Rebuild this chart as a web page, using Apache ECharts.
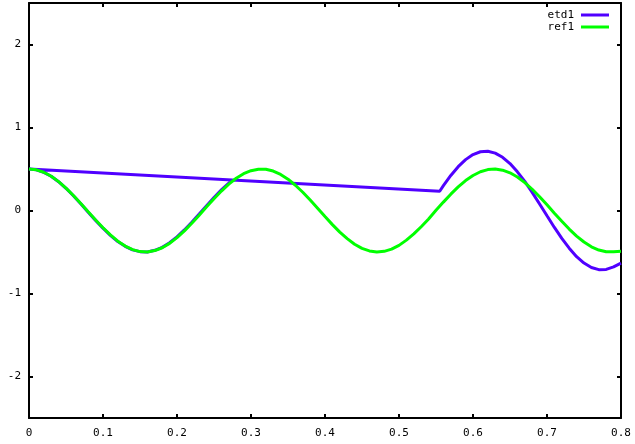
<!DOCTYPE html>
<html>
<head>
<meta charset="utf-8">
<script src="https://cdn.jsdelivr.net/npm/echarts@6/dist/echarts.min.js"></script>
<style>html,body{margin:0;padding:0;background:#fff}#c{width:635px;height:444px}</style>
</head>
<body>
<div id="c"></div>
<script>
// ref1: x values and y values
const refX = [0,0.01,0.02,0.03,0.04,0.05,0.06,0.07,0.08,0.09,0.10,0.11,0.12,0.13,0.14,0.15,0.16,0.17,0.18,0.19,0.20,0.21,0.22,0.23,0.24,0.25,0.26,0.27,0.28,0.29,0.30,0.31,0.32,0.33,0.34,0.35,0.36,0.37,0.38,0.39,0.40,0.41,0.42,0.43,0.44,0.45,0.46,0.47,0.48,0.49,0.50,0.51,0.52,0.53,0.54,0.55,0.56,0.57,0.58,0.59,0.60,0.61,0.62,0.63,0.64,0.65,0.66,0.67,0.68,0.69,0.70,0.71,0.72,0.73,0.74,0.75,0.76,0.77,0.78,0.79,0.80];
const refY = [0.500,0.490,0.461,0.413,0.348,0.270,0.181,0.085,-0.015,-0.114,-0.208,-0.294,-0.369,-0.428,-0.471,-0.495,-0.499,-0.483,-0.449,-0.396,-0.327,-0.245,-0.154,-0.056,0.044,0.142,0.234,0.318,0.388,0.443,0.480,0.498,0.497,0.475,0.435,0.377,0.304,0.220,0.126,0.027,-0.073,-0.170,-0.260,-0.339,-0.406,-0.456,-0.487,-0.500,-0.492,-0.465,-0.420,-0.357,-0.282,-0.196,-0.103,0.002,0.101,0.197,0.285,0.361,0.422,0.467,0.493,0.500,0.486,0.454,0.403,0.336,0.256,0.166,0.068,-0.032,-0.130,-0.224,-0.308,-0.380,-0.437,-0.476,-0.497,-0.498,-0.490];
// etd1: points in drawing order
const etdX = [0.275,0.27,0.26,0.25,0.24,0.23,0.22,0.21,0.20,0.19,0.18,0.17,0.16,0.15,0.14,0.13,0.12,0.11,0.10,0.09,0.08,0.07,0.06,0.05,0.04,0.03,0.02,0.01,0,0.555,0.56,0.57,0.58,0.59,0.60,0.61,0.62,0.63,0.64,0.65,0.66,0.67,0.68,0.69,0.70,0.71,0.72,0.73,0.74,0.75,0.76,0.77,0.78,0.79,0.80];
const etdY = [0.366,0.330,0.248,0.157,0.058,-0.042,-0.141,-0.234,-0.318,-0.389,-0.444,-0.480,-0.499,-0.496,-0.474,-0.432,-0.374,-0.300,-0.213,-0.119,-0.020,0.081,0.178,0.268,0.347,0.412,0.460,0.490,0.500,0.232,0.299,0.422,0.528,0.613,0.674,0.708,0.714,0.691,0.641,0.565,0.466,0.350,0.219,0.079,-0.064,-0.204,-0.336,-0.454,-0.556,-0.633,-0.687,-0.713,-0.710,-0.680,-0.635];
const yTicks = [-2,-1,0,1,2];
const xTicks = [0,0.1,0.2,0.3,0.4,0.5,0.6,0.7,0.8];
const seriesNames = ['etd1','ref1'];

const pair = (xs, ys) => xs.map((x,i)=>[x, ys[i]]);
const font = 'DejaVu Sans Mono';
const axisLine = {show:true, onZero:false, lineStyle:{color:'#000', width:2}};
const chart = echarts.init(document.getElementById('c'), null, {renderer:'canvas'});
chart.setOption({
  animation:false,
  backgroundColor:'#fff',
  grid:{left:29, right:14, top:3, bottom:26, containLabel:false},
  legend:{
    orient:'vertical', right:21, top:4, align:'right',
    itemWidth:28, itemHeight:3, itemGap:0, icon:'rect',
    textStyle:{fontFamily:font, fontSize:11, color:'#000', lineHeight:12, padding:[0,2,0,0]},
    data:seriesNames
  },
  xAxis:[{
    type:'value', min:0, max:0.8, interval:0.1, position:'bottom',
    axisLine, splitLine:{show:false},
    axisTick:{show:true, inside:true, length:4, customValues:xTicks, lineStyle:{color:'#000', width:2}},
    axisLabel:{fontFamily:font, fontSize:11, color:'#000', margin:10, formatter:v=>String(+v.toFixed(1))}
  },{
    type:'value', min:0, max:0.8, interval:0.1, position:'top',
    axisLine, splitLine:{show:false},
    axisTick:{show:true, inside:true, length:4, customValues:xTicks, lineStyle:{color:'#000', width:2}},
    axisLabel:{show:false}
  }],
  yAxis:[{
    type:'value', min:-2.5, max:2.5, position:'left',
    axisLine, splitLine:{show:false},
    axisTick:{show:true, inside:true, length:4, customValues:yTicks, lineStyle:{color:'#000', width:2}},
    axisLabel:{fontFamily:font, fontSize:11, color:'#000', margin:8, customValues:yTicks}
  },{
    type:'value', min:-2.5, max:2.5, position:'right',
    axisLine, splitLine:{show:false},
    axisTick:{show:true, inside:true, length:4, customValues:yTicks, lineStyle:{color:'#000', width:2}},
    axisLabel:{show:false}
  }],
  series:[{
    name:seriesNames[0], type:'line', showSymbol:false, symbol:'none',
    color:'#5000ff', lineStyle:{width:3, color:'#5000ff'},
    data:pair(etdX, etdY), z:2
  },{
    name:seriesNames[1], type:'line', showSymbol:false, symbol:'none',
    color:'#00ff00', lineStyle:{width:3, color:'#00ff00'},
    data:pair(refX, refY), z:3
  }]
});
</script>
</body>
</html>
